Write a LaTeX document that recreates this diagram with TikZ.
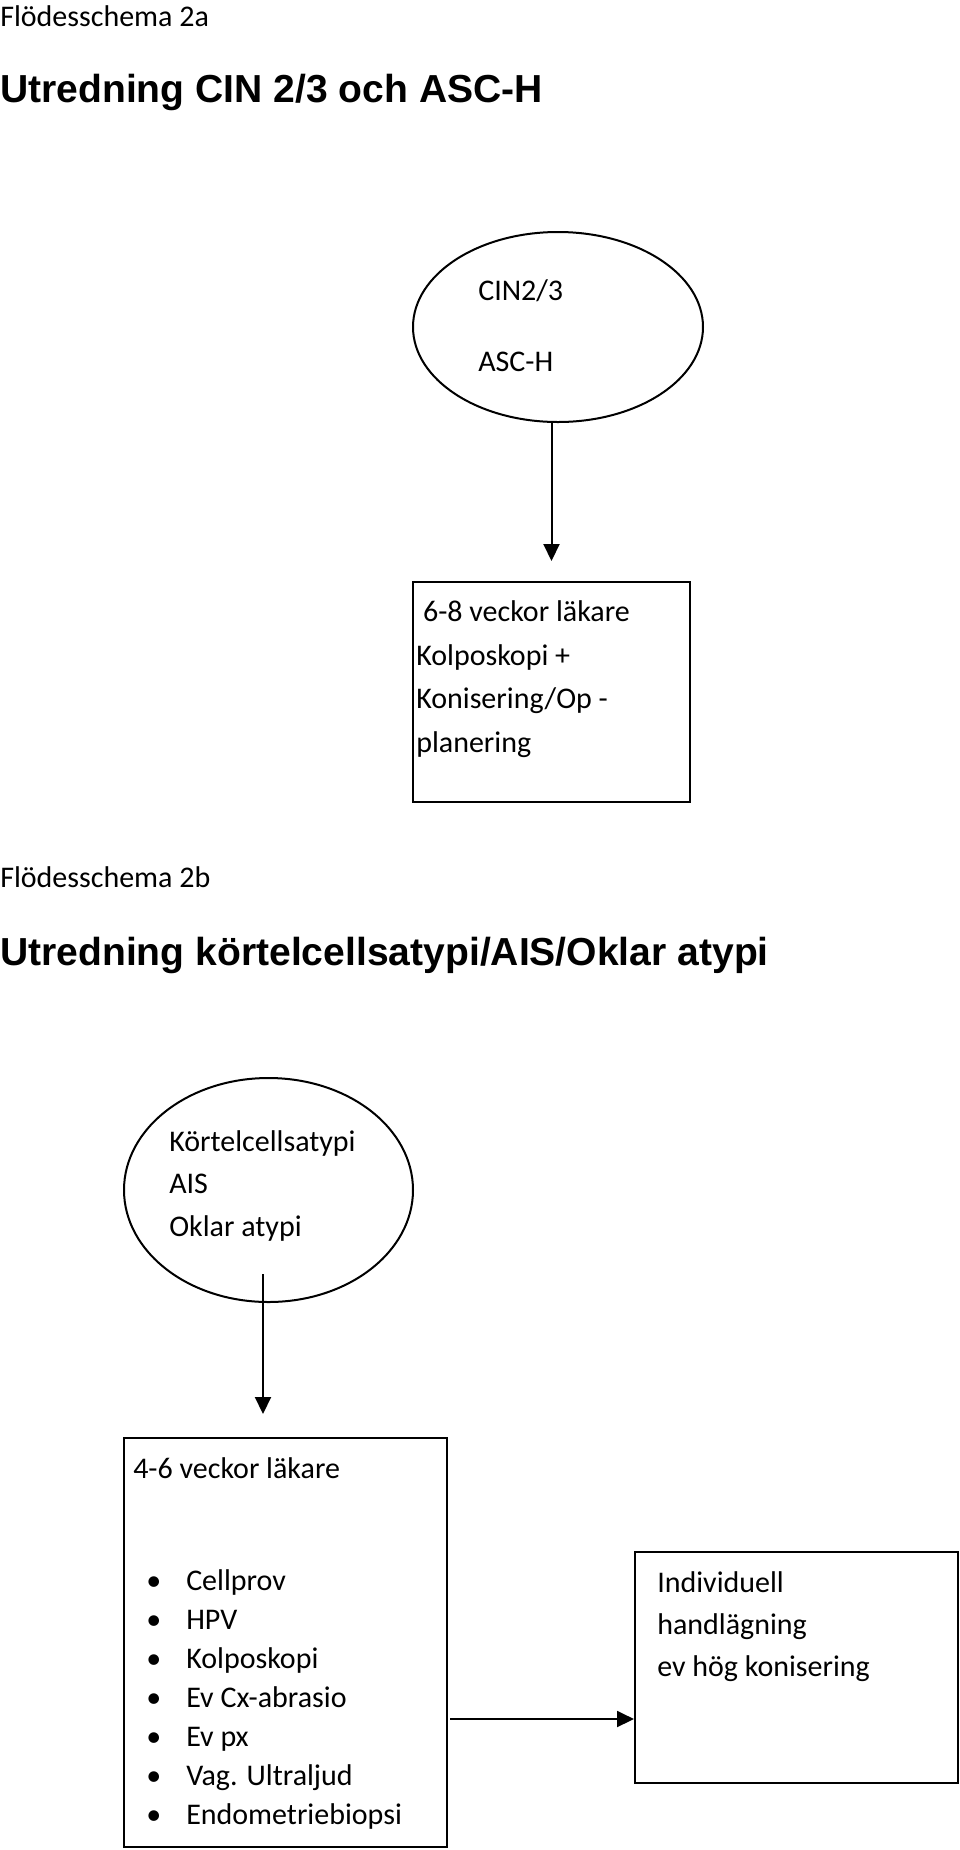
\documentclass[tikz,border=0pt]{standalone}
\usepackage{fontspec}
\setmainfont{Carlito}
\newfontfamily\arialfont{Liberation Sans}
\usetikzlibrary{shapes.geometric,arrows.meta}
\newcommand{\FT}{\arialfont\fontsize{29.3}{34}\selectfont\bfseries}
\newcommand{\FN}{\fontsize{22.5}{27}\selectfont}
\newcommand{\pkt}[1]{\makebox[30pt][l]{\textbullet}#1}

\begin{document}
\begin{tikzpicture}[x=0.75pt,y=-0.75pt]
\tikzstyle{texto}=[draw=none,fill=none,black,font=\FN,anchor=base west,inner sep=0pt]
\tikzstyle{titel}=[texto,font=\FT]
\tikzstyle{oval}=[draw=black,ellipse,line width=1.5pt,inner sep=0pt]
\tikzstyle{ruta}=[draw=black,rectangle,line width=1.5pt,inner sep=0pt]
\tikzstyle{pil}=[black,line width=1.5pt,-{Triangle[length=12.75pt,width=12pt]}]

\useasboundingbox (0,0) rectangle (960,1850);

% schema 2a
\node[texto] (h1) at (0,26)  {Flödesschema 2a};
\node[titel] (t1) at (0,102) {Utredning CIN 2/3 och ASC-H};

\node[oval,minimum width=217.5pt,minimum height=142.5pt] (e1) at (558,327) {};
\node[texto] (c1) at (478,300) {CIN2/3};
\node[texto] (c2) at (478,371) {ASC-H};

\node[ruta,minimum width=207.75pt,minimum height=165pt] (b1) at (551.5,692) {};
\node[texto] (r1) at (416,621) {\ 6-8 veckor läkare};
\node[texto] (r2) at (416,665) {Kolposkopi +};
\node[texto] (r3) at (416,708) {Konisering/Op -};
\node[texto] (r4) at (416,752) {planering};

\draw[pil,shorten >=15pt] (b1.north |- e1.south) -- (b1.north);

% schema 2b
\node[texto] (h2) at (0,887) {Flödesschema 2b};
\node[titel] (t2) at (0,965) {Utredning körtelcellsatypi/AIS/Oklar atypi};

\node[oval,minimum width=216.75pt,minimum height=168pt] (e2) at (268.5,1190) {};
\node[texto] (k1) at (169,1151) {Körtelcellsatypi};
\node[texto] (k2) at (169,1193) {AIS};
\node[texto] (k3) at (169,1236) {Oklar atypi};

\node[ruta,minimum width=242.25pt,minimum height=306.75pt] (b2) at (285.5,1642.5) {};
\node[texto] (v1) at (133,1478) {4-6 veckor läkare};
\node[texto] (l1) at (146,1590) {\pkt{Cellprov}};
\node[texto] (l2) at (146,1629) {\pkt{HPV}};
\node[texto] (l3) at (146,1668) {\pkt{Kolposkopi}};
\node[texto] (l4) at (146,1707) {\pkt{Ev Cx-abrasio}};
\node[texto] (l5) at (146,1746) {\pkt{Ev px}};
\node[texto] (l6) at (146,1785) {\pkt{Vag. Ultraljud}};
\node[texto] (l7) at (146,1824) {\pkt{Endometriebiopsi}};

\node[ruta,minimum width=242.25pt,minimum height=173.25pt] (b3) at (796.5,1667.5) {};
\node[texto] (i1) at (657,1592) {Individuell};
\node[texto] (i2) at (657,1634) {handlägning};
\node[texto] (i3) at (657,1676) {ev hög konisering};

\coordinate (p2) at (263,1274);
\coordinate (p3) at (450,1719);
\draw[pil,shorten >=17.25pt] (p2) -- (p2 |- b2.north);
\draw[pil] (p3) -- (p3 -| b3.west);
\end{tikzpicture}
\end{document}
